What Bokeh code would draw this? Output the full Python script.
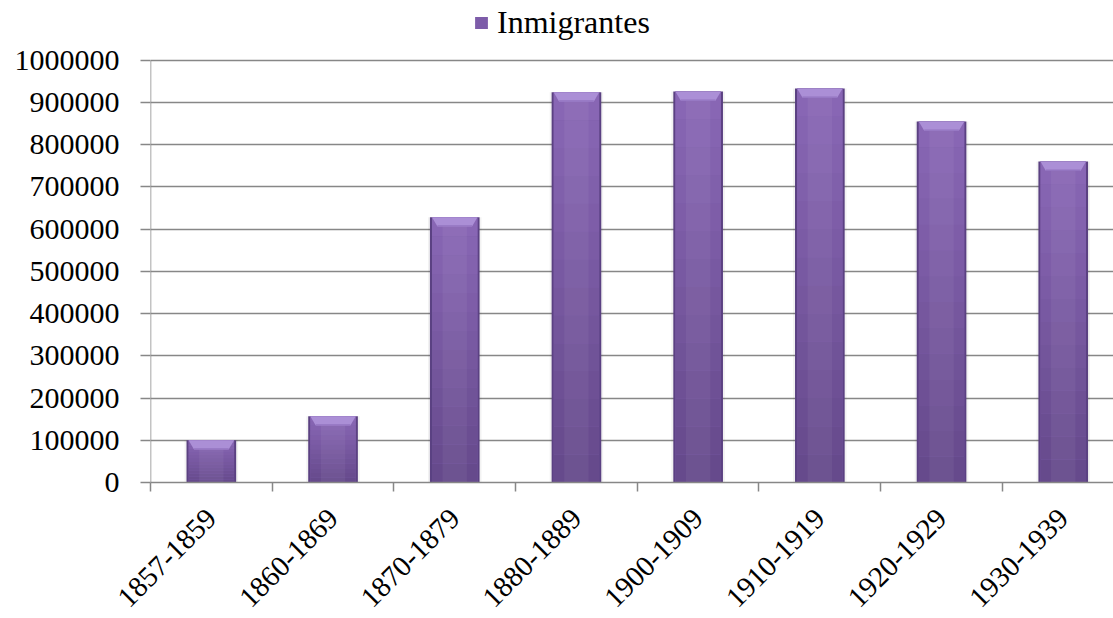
from math import pi
from bokeh.plotting import figure
from bokeh.models import (Range1d, LinearAxis, FixedTicker, Legend, LegendItem,
                          ColumnDataSource, Grid)
from bokeh.embed import file_html
from bokeh.resources import INLINE

# ---- data ----
categories = ["1857-1859", "1860-1869", "1870-1879", "1880-1889",
              "1900-1909", "1910-1919", "1920-1929", "1930-1939"]
inmigrantes = [100000, 157000, 628000, 924000, 926000, 933000, 855000, 760000]
y_ticks = [0, 100000, 200000, 300000, 400000, 500000, 600000, 700000,
           800000, 900000, 1000000]
y_tick_labels = ["0", "100000", "200000", "300000", "400000", "500000",
                 "600000", "700000", "800000", "900000", "1000000"]
series_name = "Inmigrantes"

FONT = "Liberation Serif"
GRID = "#878787"

xs = [i + 1 for i in range(len(categories))]
y_max = y_ticks[-1]
# the frame reaches the top of the canvas so the legend can sit above the value axis
y_end = y_max * 484 / 424

p = figure(width=1113, height=618, output_backend="svg", toolbar_location=None,
           x_range=Range1d(0.5, 8.413), y_range=Range1d(0, y_end),
           x_axis_type=None, y_axis_type=None,
           min_border_left=150, min_border_right=0, min_border_top=0,
           min_border_bottom=134)
p.outline_line_color = None
p.background_fill_color = "white"
p.border_fill_color = "white"

# y axis (line drawn separately so it stops at the top tick)
yax = LinearAxis(ticker=FixedTicker(ticks=y_ticks, minor_ticks=[]))
yax.major_label_overrides = {t: s for t, s in zip(y_ticks, y_tick_labels)}
yax.major_label_text_font = FONT
yax.major_label_text_font_size = "30px"
yax.major_label_text_color = "black"
yax.axis_line_color = None
yax.major_tick_line_color = GRID
yax.major_tick_line_width = 1.5
yax.major_tick_out = 10
yax.major_tick_in = 0
yax.major_label_standoff = 21
p.add_layout(yax, "left")

# x axis: labels at category centres, tick marks at category boundaries
xax = LinearAxis(ticker=FixedTicker(ticks=xs, minor_ticks=[i + 0.5 for i in range(len(categories) + 1)]))
xax.major_label_overrides = {x: c for x, c in zip(xs, categories)}
xax.major_label_orientation = pi / 4
xax.major_label_text_font = FONT
xax.major_label_text_font_size = "29px"
xax.major_label_text_color = "black"
xax.axis_line_color = GRID
xax.axis_line_width = 1.5
xax.major_tick_out = 0
xax.major_tick_in = 0
xax.major_tick_line_color = None
xax.minor_tick_line_color = GRID
xax.minor_tick_line_width = 1.5
xax.minor_tick_out = 9
xax.minor_tick_in = 0
xax.major_label_standoff = 22
p.add_layout(xax, "below")

g = Grid(dimension=1, ticker=yax.ticker, grid_line_color=GRID, grid_line_width=1.5)
p.add_layout(g)

# value-axis line from 0 to the top tick
p.segment(x0=[0.5], y0=[0], x1=[0.5], y1=[y_max], line_color=GRID, line_width=1.5)

# ---- bars with bevel styling ----
src = ColumnDataSource(dict(x=xs, top=inmigrantes))

p.vbar(x="x", top="top", width=0.44, source=src, fill_color="#000000",
       fill_alpha=0.05, line_color=None)
p.vbar(x="x", top="top", width=0.408, source=src, fill_color="#5b4182",
       line_color=None)
base = p.vbar(x="x", top="top", width=0.374, source=src, fill_color="#7d5ca9",
              line_color=None)

def lerp(c1, c2, t):
    a = [int(c1[i:i + 2], 16) for i in (1, 3, 5)]
    b = [int(c2[i:i + 2], 16) for i in (1, 3, 5)]
    return "#%02x%02x%02x" % tuple(round(a[k] + (b[k] - a[k]) * t) for k in range(3))

N = 14
for k in range(N):
    bot = [v * k / N for v in inmigrantes]
    top = [v * (k + 1) / N for v in inmigrantes]
    p.vbar(x=xs, bottom=bot, top=top, width=0.374,
           fill_color=lerp("#664a8c", "#8866b4", k / (N - 1)), line_color=None)

# subtle vertical highlight in the middle of each bar
p.vbar(x=xs, top=inmigrantes, width=0.2, fill_color="#ffffff", fill_alpha=0.05,
       line_color=None)

bev_h = 22000
half = 0.187
inset = 0.045
bxs, bys = [], []
for x, v in zip(xs, inmigrantes):
    bxs.append([x - half, x + half, x + half - inset, x - half + inset])
    bys.append([v, v, v - bev_h, v - bev_h])
p.patches(bxs, bys, fill_color="#ab8fd6", line_color=None)
p.vbar(x=xs, bottom=[v - bev_h for v in inmigrantes], top=[v - bev_h + 3000 for v in inmigrantes],
       width=0.374 - 2 * inset, fill_color="#9374c0", line_color=None)

legend = Legend(items=[LegendItem(label=series_name, renderers=[base])],
                location=(323, 441), orientation="horizontal",
                label_text_font=FONT, label_text_font_size="32px",
                label_text_color="black", glyph_width=16, glyph_height=15,
                label_standoff=8, padding=0, margin=0, spacing=0,
                border_line_color=None, background_fill_alpha=0)
p.add_layout(legend)

open("out.html", "w").write(file_html(p, INLINE))
